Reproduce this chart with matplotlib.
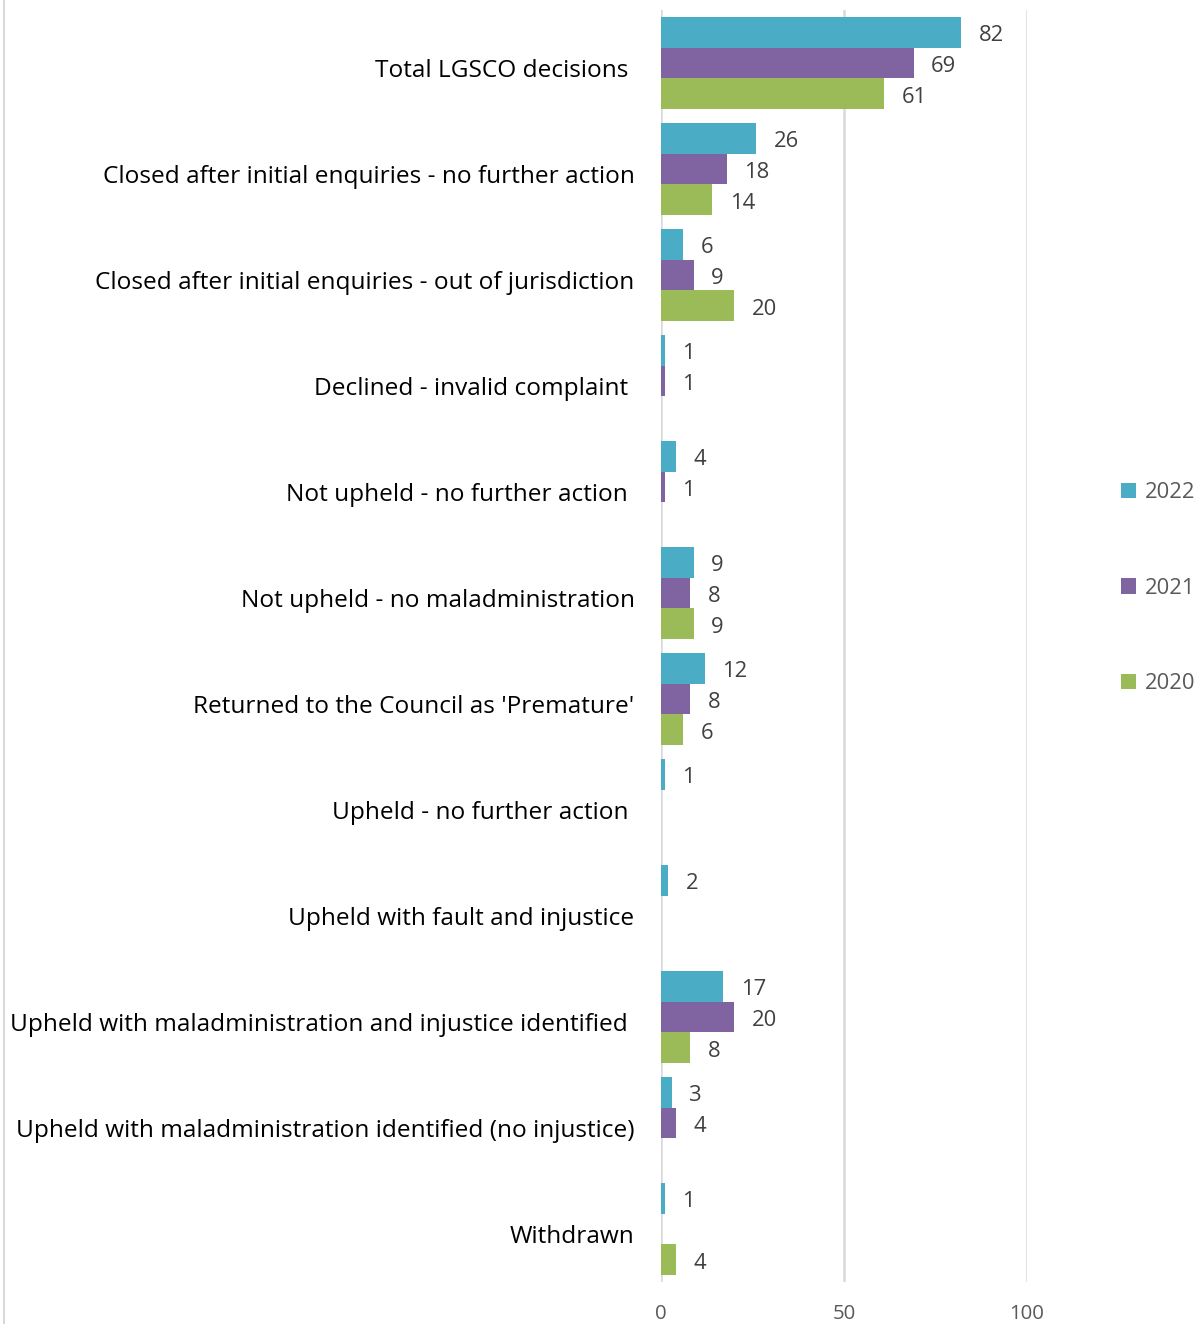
import numpy as np
import matplotlib
matplotlib.use("Agg")
import matplotlib.pyplot as plt
import matplotlib.transforms as mtransforms
from matplotlib.patches import Patch
from matplotlib.lines import Line2D

categories = [
    "Total LGSCO decisions ",
    "Closed after initial enquiries - no further action",
    "Closed after initial enquiries - out of jurisdiction",
    "Declined - invalid complaint ",
    "Not upheld - no further action ",
    "Not upheld - no maladministration",
    "Returned to the Council as 'Premature'",
    "Upheld - no further action ",
    "Upheld with fault and injustice",
    "Upheld with maladministration and injustice identified ",
    "Upheld with maladministration identified (no injustice)",
    "Withdrawn",
]
years = ["2022", "2021", "2020"]
v2022 = [82, 26, 6, 1, 4, 9, 12, 1, 2, 17, 3, 1]
v2021 = [69, 18, 9, 1, 1, 8, 8, None, None, 20, 4, None]
v2020 = [61, 14, 20, None, None, 9, 6, None, None, 8, None, 4]
colors = ["#4BACC6", "#8064A2", "#9BBB59"]
xticks = [0, 50, 100]

plt.rcParams["font.family"] = ["Open Sans", "DejaVu Sans"]

fig = plt.figure(figsize=(12.01, 13.24), dpi=100)
ax = fig.add_axes([661 / 1201, 1 - 1282 / 1324, (1027 - 661) / 1201, (1282 - 10) / 1324])

n = len(categories)
y = np.arange(n)
bh = 0.292
series = [v2022, v2021, v2020]
for k, (vals, col) in enumerate(zip(series, colors)):
    off = (k - 1) * bh
    for i, v in enumerate(vals):
        if v is None:
            continue
        ax.barh(y[i] + off, v, height=bh, color=col, zorder=3)
        ax.annotate(str(v), xy=(v, y[i] + off), xytext=(12.5, -2.5),
                    textcoords="offset points", va="center", ha="left",
                    fontsize=15.8, color="#404040")

ax.set_ylim(n - 0.5, -0.5)
ax.set_xlim(0, 100)
ax.set_xticks(xticks)
ax.set_xticklabels([str(t) for t in xticks], fontsize=14.7, color="#595959")
ax.set_yticks(y)
ax.set_yticklabels(categories, fontsize=17.6, color="#000000")
ax.tick_params(axis="y", length=0, pad=19)
ax.tick_params(axis="x", length=0, pad=16)
shift = mtransforms.ScaledTranslation(0, -8 / 100, fig.dpi_scale_trans)
for lbl in ax.get_yticklabels():
    lbl.set_va("center")
    lbl.set_transform(lbl.get_transform() + shift)

for t in xticks:
    ax.axvline(t, color="#D9D9D9", lw=1.8, zorder=1)
for s in ax.spines.values():
    s.set_visible(False)

# left edge of the chart area frame
fig.add_artist(Line2D([4 / 1201, 4 / 1201], [0, 1], transform=fig.transFigure,
                      color="#D9D9D9", lw=1.5))

handles = [Patch(facecolor=c, edgecolor="none") for c in colors]
fig.legend(handles, years, loc="center left",
           bbox_to_anchor=(1112 / 1201, 1 - 588 / 1324),
           frameon=False, fontsize=15.8, labelcolor="#595959",
           handlelength=0.7, handleheight=0.7, handletextpad=0.4,
           labelspacing=3.4, borderaxespad=0)

fig.savefig("out.png", dpi=100)
